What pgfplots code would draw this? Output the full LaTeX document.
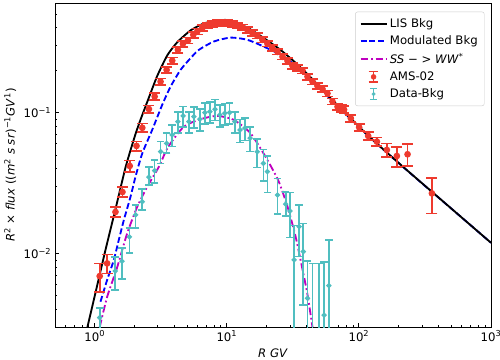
\documentclass[border=0pt]{standalone}
\usepackage{pgfplots}
\pgfplotsset{compat=1.18}
\usepackage{fontspec}
\setmainfont{DejaVu Sans}
\definecolor{amsred}{RGB}{238,58,46}
\definecolor{dcyan}{RGB}{80,190,192}
\definecolor{mmag}{RGB}{191,0,191}
\definecolor{mblue}{RGB}{0,0,255}
\pgfplotsset{
  linelegend/.style={legend image code/.code={\draw[#1] (0cm,0cm) -- (0.85cm,0cm);}},
}

\pgfplotstableread{
x y e
1.09 0.0069 0.0016
1.24 0.0085 0.0013
1.435 0.0197 0.0016
1.62 0.0273 0.0022
1.84 0.0418 0.0040
2.07 0.058 0.0045
2.29 0.078 0.0055
2.57 0.106 0.0065
2.84 0.130 0.0075
3.15 0.166 0.009
3.50 0.201 0.010
3.86 0.234 0.012
4.26 0.279 0.014
4.65 0.308 0.015
5.07 0.325 0.016
5.57 0.357 0.017
5.97 0.377 0.018
6.52 0.398 0.019
7.11 0.415 0.020
7.77 0.427 0.020
8.47 0.434 0.021
9.25 0.436 0.021
10.1 0.434 0.021
11.0 0.427 0.020
12.0 0.415 0.019
13.1 0.404 0.019
14.3 0.387 0.018
15.6 0.368 0.017
17.0 0.351 0.016
18.6 0.329 0.015
20.3 0.308 0.014
22.1 0.288 0.013
24.2 0.270 0.012
26.4 0.249 0.011
28.8 0.233 0.011
31.4 0.215 0.010
34.3 0.207 0.010
37.4 0.199 0.009
40.8 0.180 0.009
44.5 0.166 0.008
48.5 0.155 0.008
53.0 0.147 0.007
57.8 0.137 0.007
63.1 0.120 0.006
68.9 0.110 0.006
73.8 0.107 0.006
77.2 0.105 0.006
86.8 0.0912 0.005
100.4 0.0787 0.0045
117.5 0.0683 0.0045
136.8 0.0622 0.0045
162.8 0.0543 0.006
193.8 0.0492 0.008
233.5 0.0506 0.009
357 0.0267 0.0075
}\amsdata

\pgfplotstableread{
x y ep em
1.09 0.0035 0.0006 0.0008
1.43 0.0075 0.0019 0.0020
1.61 0.0088 0.0021 0.0022
1.83 0.0131 0.0020 0.0030
2.04 0.0188 0.0033 0.0037
2.29 0.0233 0.0053 0.0030
2.57 0.0348 0.0061 0.0042
2.84 0.0387 0.0074 0.0072
3.15 0.0528 0.0094 0.0092
3.50 0.0605 0.011 0.009
3.86 0.0695 0.012 0.012
4.26 0.0863 0.015 0.015
4.67 0.0948 0.016 0.016
5.16 0.0863 0.015 0.015
5.63 0.0937 0.016 0.016
6.25 0.0898 0.016 0.016
6.83 0.100 0.017 0.017
7.45 0.1016 0.017 0.017
8.14 0.1057 0.018 0.018
8.85 0.0964 0.017 0.017
9.66 0.0990 0.017 0.017
10.5 0.100 0.017 0.017
11.5 0.0863 0.015 0.015
12.6 0.0753 0.014 0.014
13.7 0.0775 0.014 0.014
15.0 0.0658 0.013 0.013
17.0 0.0528 0.012 0.012
18.9 0.0436 0.011 0.011
20.3 0.0381 0.011 0.011
24.2 0.026 0.008 0.007
27.9 0.0224 0.005 0.004
30.1 0.0200 0.007 0.007
32.3 0.0090 0.0068 0.0070
35.2 0.0155 0.0065 0.006
37.9 0.0103 0.006 0.006
40.8 0.0048 0.004 0.004
44.5 0.0022 0.0063 0.0021
49.9 0.0022 0.0063 0.0021
54.5 0.00365 0.0050 0.0036
59.2 0.0059 0.0065 0.0058
}\diffdata

\begin{document}
\begin{tikzpicture}
\begin{axis}[
  scale only axis, width=401.8pt, height=298.6pt,
  xmode=log, ymode=log,
  xmin=0.5, xmax=1000, ymin=0.003, ymax=0.6,
  xtick={1,10,100,1000},
  xticklabels={10\textsuperscript{0},10\textsuperscript{1},10\textsuperscript{2},10\textsuperscript{3}},
  ytick={0.01,0.1},
  yticklabels={10\textsuperscript{−2},10\textsuperscript{−1}},
  minor xtick={0.5,0.6,0.7,0.8,0.9,2,3,4,5,6,7,8,9,20,30,40,50,60,70,80,90,200,300,400,500,600,700,800,900},
  minor ytick={0.003,0.004,0.005,0.006,0.007,0.008,0.009,0.02,0.03,0.04,0.05,0.06,0.07,0.08,0.09,0.2,0.3,0.4,0.5,0.6},
  tick align=inside, tick pos=left,
  major tick length=3.8pt, minor tick length=2.2pt,
  every tick/.style={black, line width=0.85pt},
  every minor tick/.style={line width=0.65pt},
  axis line style={line width=0.85pt},
  tick label style={font=\fontsize{10.8}{13}\selectfont},
  label style={font=\fontsize{10.8}{13}\selectfont},
  xlabel={\textit{R GV}},
  ylabel={\textit{R}\textsuperscript{2} × \textit{flux} ((\textit{m}\textsuperscript{2} \textit{s sr})\textsuperscript{−1}\textit{GV}\textsuperscript{1})},
  legend cell align=left,
  legend style={at={(rel axis cs:1,1)}, anchor=north east, xshift=-6pt, yshift=-8pt,
    draw=black!20, fill=white, rounded corners=2pt, row sep=2.2pt,
    inner xsep=4pt, inner ysep=4pt,
    font=\fontsize{10.8}{13}\selectfont},
]
\addplot[mblue, line width=1.7pt, smooth, tension=0.4, dash pattern=on 5.5pt off 2.6pt, forget plot]
 coordinates {(1.105,0.00454) (1.24,0.00647) (1.393,0.00897) (1.52,0.01245) (1.66,0.01725) (1.866,0.0253) (2.035,0.0351) (2.29,0.0514) (2.72,0.0753) (3.24,0.1135) (3.75,0.153) (4.46,0.201) (5.32,0.244) (6.14,0.279) (7.98,0.320) (10.7,0.341) (14.3,0.329) (19.1,0.294) (25.6,0.257) (34.2,0.212) (45.8,0.166) (61.2,0.124) (116,0.0693) (208,0.0424) (1000,0.0119)};
\addplot[black, line width=1.7pt, smooth, tension=0.35, forget plot]
 coordinates {(0.88,0.0030) (1.0,0.0050) (1.2,0.0104) (1.45,0.0215) (1.7,0.0400) (1.87,0.0545) (2.05,0.0720) (2.22,0.0890) (2.57,0.128) (2.97,0.182) (3.54,0.255) (4.21,0.316) (5.32,0.384) (6.70,0.430) (8.47,0.451) (10,0.455) (12.0,0.434) (15.1,0.390) (19.1,0.338) (25.6,0.278) (34.2,0.220) (45.8,0.168) (61.2,0.126) (116,0.0695) (208,0.0425) (1000,0.0119)};
\addplot[mmag, line width=1.7pt, smooth, tension=0.4, dash pattern=on 7pt off 2.6pt on 1.6pt off 2.6pt, forget plot]
 coordinates {(1.09,0.0030) (1.24,0.0049) (1.48,0.0080) (1.76,0.0139) (2.10,0.0215) (2.50,0.0298) (3.06,0.0413) (3.59,0.057) (4.73,0.0795) (6.33,0.0898) (8.47,0.0948) (11.3,0.0888) (15.1,0.0714) (19.6,0.0487) (24.5,0.033) (28.8,0.0215) (33.2,0.0131) (37.4,0.0077) (40.8,0.0051) (44.5,0.0030)};
\addplot[color=amsred, draw=amsred, line width=1.5pt, only marks, mark=*, mark size=2.3pt, forget plot,
  /pgfplots/error bars/error bar style={draw=amsred, line width=1.5pt},
  /pgfplots/error bars/error mark options={rotate=90, draw=amsred, line width=1.5pt, mark size=5pt},
  error bars/.cd, y dir=both, y explicit]
  table[x=x, y=y, y error=e] {\amsdata};
\addplot[color=dcyan, draw=dcyan, line width=1.5pt, only marks, mark=*, mark size=1.6pt, forget plot,
  /pgfplots/error bars/error bar style={draw=dcyan, line width=1.5pt},
  /pgfplots/error bars/error mark options={rotate=90, draw=dcyan, line width=1.5pt, mark size=3.5pt},
  error bars/.cd, y dir=both, y explicit]
  table[x=x, y=y, y error plus=ep, y error minus=em] {\diffdata};
\addlegendimage{black, line width=1.7pt, linelegend}
\addlegendentry{LIS Bkg}
\addlegendimage{mblue, line width=1.7pt, dash pattern=on 5.5pt off 2.6pt, linelegend}
\addlegendentry{Modulated Bkg}
\addlegendimage{mmag, line width=1.7pt, dash pattern=on 7pt off 2.6pt on 1.6pt off 2.6pt, linelegend}
\addlegendentry{\textit{SS} − > \textit{WW}\textsuperscript{*}}
\addlegendimage{legend image code/.code={\draw[amsred, line width=1.5pt] (0.42cm,-5pt) -- (0.42cm,5pt) (0.42cm-4.5pt,-5pt) -- (0.42cm+4.5pt,-5pt) (0.42cm-4.5pt,5pt) -- (0.42cm+4.5pt,5pt); \fill[amsred] (0.42cm,0cm) circle (2.3pt);}}
\addlegendentry{AMS-02}
\addlegendimage{legend image code/.code={\draw[dcyan, line width=1.5pt] (0.42cm,-5pt) -- (0.42cm,5pt) (0.42cm-3.5pt,-5pt) -- (0.42cm+3.5pt,-5pt) (0.42cm-3.5pt,5pt) -- (0.42cm+3.5pt,5pt); \fill[dcyan] (0.42cm,0cm) circle (1.6pt);}}
\addlegendentry{Data-Bkg}
\end{axis}
\pgfresetboundingbox
\useasboundingbox ([xshift=-50.7pt, yshift=-29.5pt]current axis.south west) rectangle ([xshift=8.3pt, yshift=2.8pt]current axis.north east);
\end{tikzpicture}
\end{document}
